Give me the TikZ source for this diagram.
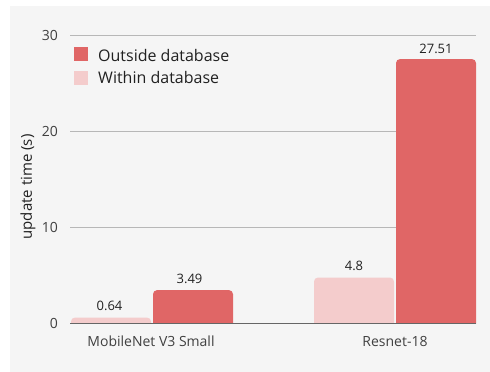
\documentclass[tikz,border=0pt]{standalone}
\usepackage{fontspec}
\setmainfont{Open Sans}
\usepackage{xcolor}
\usepackage{tikz}
\usetikzlibrary{positioning,calc}

\definecolor{outsidecol}{HTML}{E06666}
\definecolor{withincol}{HTML}{F4CCCC}
\definecolor{panelcol}{HTML}{F5F5F5}
\definecolor{gridcol}{HTML}{B7B7B7}
\definecolor{axiscol}{HTML}{666666}

\begin{document}
\begin{tikzpicture}[
    x=1pt, y=-1pt,
    gridline/.style={gridcol, line width=1.2pt},
    barfill/.style={fill=#1},
    ticklabel/.style={anchor=east, inner sep=0pt, text=black!75, font=\fontsize{14}{16}\selectfont},
    vallabel/.style={anchor=base, inner sep=0pt, text=black!87, font=\fontsize{13}{15}\selectfont},
    catlabel/.style={anchor=base, inner sep=0pt, text=black!75, font=\fontsize{14}{16}\selectfont},
    legendtext/.style={anchor=west, inner sep=0pt, text=black!87, font=\fontsize{16}{18}\selectfont},
    swatch/.style={fill=#1, minimum size=14pt, inner sep=0pt},
  ]
  % Panel
  \useasboundingbox (0,0) rectangle (490,372);
  \fill[panelcol] (10,6) rectangle (490,372);

  % Grid and tick labels
  \foreach \v in {10,20,30} {
    \draw[gridline] (70,{323.7-9.62*\v}) -- (476,{323.7-9.62*\v});
  }
  \foreach \v in {0,10,20,30} {
    \node[ticklabel] (tick\v) at (58,{323.7-9.62*\v}) {\v};
  }

  % Bars
  \foreach \xa/\xb/\val/\col in {71/151/0.64/withincol, 153/233/3.49/outsidecol,
                                 314/394/4.8/withincol, 396/476/27.51/outsidecol} {
    \fill[barfill=\col] (\xa,323.7) [rounded corners=4pt] -- (\xa,{323.7-9.62*\val})
      -- (\xb,{323.7-9.62*\val}) [sharp corners] -- (\xb,323.7) -- cycle;
  }

  % Value labels
  \node[vallabel] (val-mob-in)  at (109.5,{316.7-9.62*0.64}) {0.64};
  \node[vallabel] (val-mob-out) at (189.5,{316.7-9.62*3.49}) {3.49};
  \node[vallabel] (val-res-in)  at (354,{316.7-9.62*4.8})    {4.8};
  \node[vallabel] (val-res-out) at (436,{317.7-9.62*27.51})  {27.51};

  % Axis line
  \draw[axiscol, line width=1.5pt] (70,323.7) -- (476,323.7);

  % Categories
  \node[catlabel] (cat-mob) at (151,346) {MobileNet V3 Small};
  \node[catlabel] (cat-res) at (395,346) {Resnet-18};

  % Axis title
  \node[rotate=90, text=black!87, font=\fontsize{15}{17}\selectfont] (ytitle) at (28,187) {update time (s)};

  % Legend
  \node[swatch=outsidecol] (sw-out) at (81,54) {};
  \node[swatch=withincol]  (sw-in)  at (81,77.5) {};
  \node[legendtext] (lg-out) at (98,55.5) {Outside database};
  \node[legendtext] (lg-in)  at (98,77.5) {Within database};
\end{tikzpicture}
\end{document}
